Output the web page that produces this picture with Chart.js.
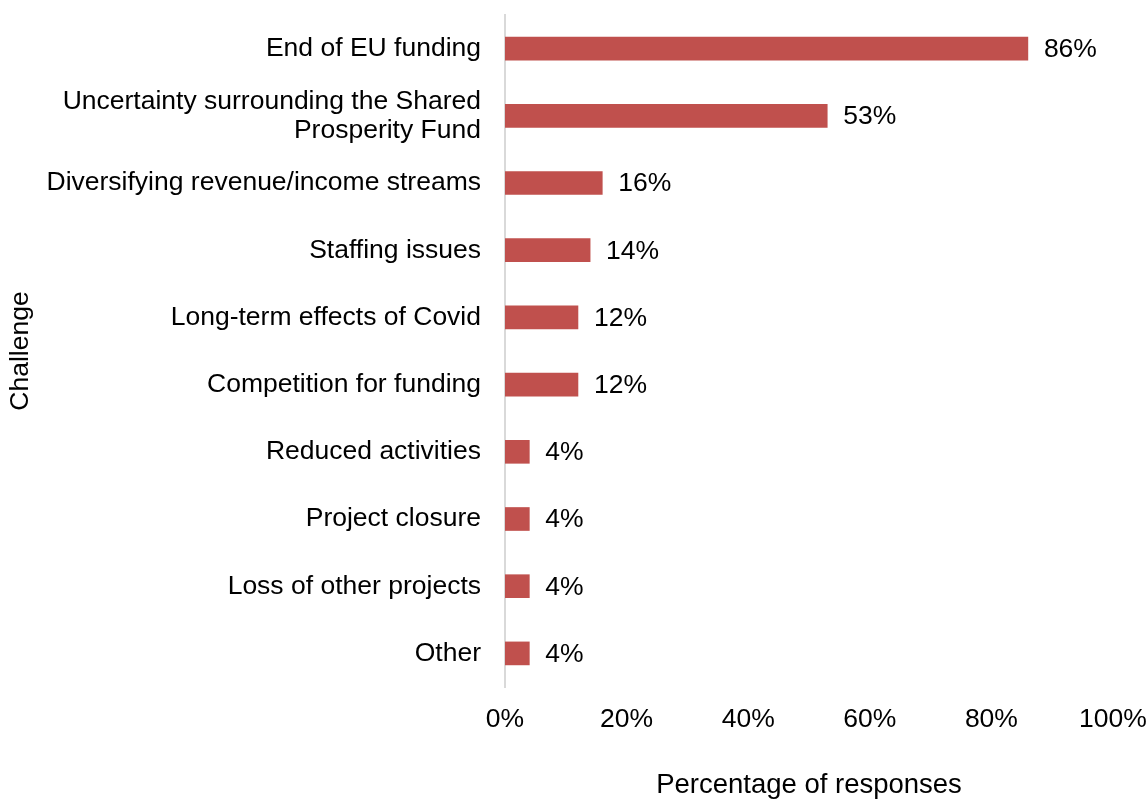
<!DOCTYPE html>
<html>
<head>
<meta charset="utf-8">
<script src="https://cdn.jsdelivr.net/npm/chart.js@4"></script>
<style>
  html, body { margin: 0; padding: 0; background: #fff; }
  #wrap { width: 1147px; height: 802px; }
</style>
</head>
<body>
<div id="wrap"><canvas id="myChart" width="1147" height="802"></canvas></div>
<script>
// Challenges (two-line label for the long one)
const challenges = [
  'End of EU funding',
  ['Uncertainty surrounding the Shared', 'Prosperity Fund'],
  'Diversifying revenue/income streams',
  'Staffing issues',
  'Long-term effects of Covid',
  'Competition for funding',
  'Reduced activities',
  'Project closure',
  'Loss of other projects',
  'Other'
];
const shares = [86, 53, 16, 14, 12, 12, 4, 4, 4, 4]; // % of responses
const xTicks = [0, 20, 40, 60, 80, 100];

const FONT = 'Liberation Sans, Arial, sans-serif';
const SIZE = 26.5;

// percentage label just past the end of each bar
const valueLabels = {
  id: 'valueLabels',
  afterDatasetsDraw: (chart) => {
    const ctx = chart.ctx;
    const meta = chart.getDatasetMeta(0);
    ctx.save();
    ctx.font = SIZE + 'px ' + FONT;
    ctx.fillStyle = '#000';
    ctx.textAlign = 'left';
    ctx.textBaseline = 'middle';
    meta.data.forEach((bar, i) => {
      ctx.fillText(shares[i] + '%', bar.x + 16, bar.y + 1);
    });
    ctx.restore();
  }
};

// keep tick-label overhang from shrinking the plot area
const noOverhang = (scale) => {
  scale.paddingTop = 0;
  scale.paddingBottom = 0;
  scale.paddingLeft = 0;
  scale.paddingRight = 0;
};

const ctx = document.getElementById('myChart').getContext('2d');
new Chart(ctx, {
  type: 'bar',
  data: {
    labels: challenges,
    datasets: [{
      data: shares,
      backgroundColor: '#C0504D',
      borderWidth: 0,
      barThickness: 23
    }]
  },
  options: {
    indexAxis: 'y',
    responsive: false,
    animation: false,
    layout: { padding: { top: 15, right: 34, bottom: 0, left: 0 } },
    plugins: {
      legend: { display: false },
      tooltip: { enabled: false }
    },
    scales: {
      x: {
        min: 0,
        max: 100,
        afterFit: (scale) => { scale.height = 115; noOverhang(scale); },
        afterBuildTicks: (scale) => { scale.ticks = xTicks.map(v => ({ value: v })); },
        grid: { display: false, drawTicks: false },
        border: { display: false },
        ticks: {
          padding: 17,
          color: '#000',
          font: { family: FONT, size: SIZE },
          callback: (v) => v + '%'
        },
        title: {
          display: true,
          text: 'Percentage of responses',
          color: '#000',
          font: { family: FONT, size: 27.5 },
          padding: { top: 0, bottom: 0 }
        }
      },
      y: {
        afterFit: (scale) => { scale.width = 505; noOverhang(scale); },
        grid: { display: false, drawTicks: false },
        border: { display: true, color: '#D9D9D9', width: 2 },
        ticks: {
          padding: 24,
          color: '#000',
          font: { family: FONT, size: SIZE, lineHeight: 1.1 }
        },
        title: {
          display: true,
          text: 'Challenge',
          color: '#000',
          font: { family: FONT, size: SIZE },
          padding: { top: 5, bottom: 0 }
        }
      }
    }
  },
  plugins: [valueLabels]
});
</script>
</body>
</html>
